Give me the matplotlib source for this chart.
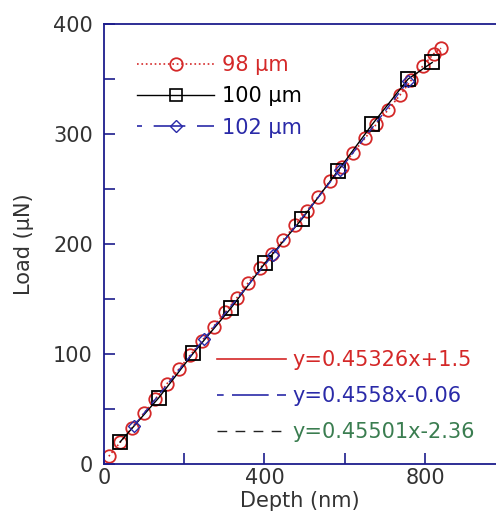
import matplotlib.pyplot as plt
from matplotlib.lines import Line2D

plt.rcParams['font.family'] = ['DejaVu Sans']

# 98 um indentation (red circles)
d98 = [12, 41, 70, 99, 128, 157, 186, 215, 244, 273, 302, 331, 360, 389, 418,
       447, 476, 505, 534, 563, 592, 621, 650, 679, 708, 737, 766, 795, 822, 840]
l98 = [7, 20, 33, 46, 59, 73, 86, 99, 112, 125, 138, 151, 165, 178, 191,
       204, 217, 230, 243, 257, 270, 283, 296, 309, 322, 335, 349, 362, 373, 378]
# 100 um (black squares)
d100 = [40, 136, 223, 317, 402, 494, 582, 669, 758, 818]
l100 = [20, 60, 101, 142, 183, 223, 266, 309, 350, 365]
# 102 um (blue diamonds)
d102 = [75, 250, 421, 587, 758]
l102 = [35, 114, 190, 267, 348]

fits = ['y=0.45326x+1.5', 'y=0.4558x-0.06', 'y=0.45501x-2.36']

navy = '#1c1c8c'
red = '#d42828'
blue = '#2a2aa8'
green = '#3a7d50'
grey = '#333333'

fig = plt.figure(figsize=(4.96, 5.23), dpi=100)
ax = fig.add_axes([104 / 496, 59 / 523, 1 - 104 / 496, 440 / 523])

ax.plot(d98, l98, color=red, ls=':', lw=1.2, marker='o', ms=9, mfc='none',
        mec=red, mew=1.3, label='98 µm', zorder=2)
ax.plot(d100, l100, color='black', ls='-', lw=1.0, marker='s', ms=10, mfc='none',
        mec='black', mew=1.3, label='100 µm', zorder=3)
ax.plot(d102, l102, color=blue, ls=(0, (6, 4)), lw=1.0, marker='D', ms=6, mfc='none',
        mec=blue, mew=1.0, label='102 µm', zorder=4)

ax.set_xlim(0, 977)
ax.set_ylim(0, 400)
ax.set_xticks([0, 400, 800])
ax.set_xticks([200, 600], minor=True)
ax.set_yticks([0, 100, 200, 300, 400])
ax.set_yticks([50, 150, 250, 350], minor=True)
ax.tick_params(which='both', direction='in', length=8, width=1.2, color=navy,
               labelsize=15, labelcolor=grey)
ax.tick_params(axis='x', pad=3)
ax.tick_params(axis='y', pad=8)
ax.spines['right'].set_visible(False)
for s in ['left', 'top', 'bottom']:
    ax.spines[s].set_color(navy)
    ax.spines[s].set_linewidth(1.3)

ax.set_xlabel('Depth (nm)', fontsize=15, color=grey, labelpad=2)
ax.set_ylabel('Load (µN)', fontsize=15, color=grey, labelpad=14)

leg_handles = [Line2D([], [], color=red, ls=':', lw=1.2, marker='o', ms=9, mfc='none', mec=red, mew=1.3),
               Line2D([], [], color='black', ls='-', lw=1.0, marker='s', ms=9, mfc='none', mec='black', mew=1.2),
               Line2D([], [], color=blue, ls=(2, (5, 7, 14, 0)), lw=1.2, marker='D', ms=6, mfc='none', mec=blue, mew=1.0)]
leg1 = ax.legend(leg_handles, ['98 µm', '100 µm', '102 µm'], loc='upper left',
                 bbox_to_anchor=(0.085, 0.93), frameon=False, borderpad=0, borderaxespad=0,
                 fontsize=15, handlelength=3.7, handletextpad=0.35, labelspacing=0.55)
for t, c in zip(leg1.get_texts(), [red, 'black', blue]):
    t.set_color(c)
ax.add_artist(leg1)

fit_handles = [Line2D([], [], color=red, lw=1.2, ls='-'),
               Line2D([], [], color=blue, lw=1.2, ls=(0, (4, 5, 18, 0))),
               Line2D([], [], color='#222222', lw=1.0, ls=(0, (7, 6)))]
leg2 = ax.legend(fit_handles, fits, loc='lower right', bbox_to_anchor=(0.945, 0.05),
                 frameon=False, borderpad=0, borderaxespad=0, fontsize=15,
                 handlelength=3.3, handletextpad=0.3, labelspacing=0.77)
for t, c in zip(leg2.get_texts(), [red, blue, green]):
    t.set_color(c)

fig.savefig('out.png', dpi=100)
